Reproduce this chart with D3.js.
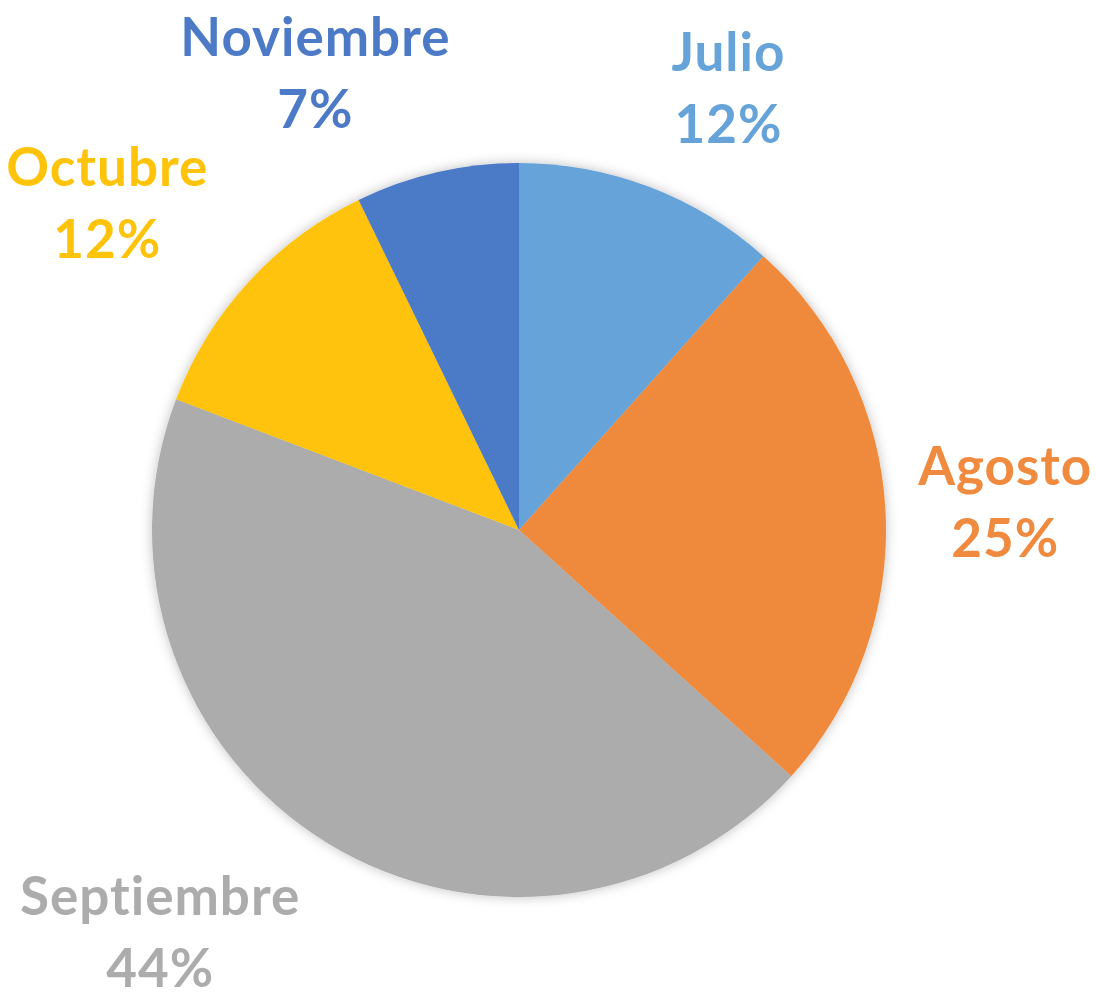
<!DOCTYPE html>
<html lang="en">
<head>
    <meta charset="UTF-8">
    <script src="https://cdn.jsdelivr.net/npm/d3@7"></script>
    <title>Pie - meses</title>
    <style>
        body { margin: 0; background: white; }
        text { font-family: Lato, "Open Sans", sans-serif; font-weight: 700; font-variant-ligatures: none; letter-spacing: 1px; }
    </style>
</head>
<body>
    <div class="fig"></div>
    <script>
        // data
        const months = ["Julio", "Agosto", "Septiembre", "Octubre", "Noviembre"];
        const values = [11.6, 25.1, 44.1, 12.0, 7.2];
        const colors = ["#65a3d8", "#ef8a3e", "#acacac", "#ffc30a", "#4c7ac7"];

        const width = 1096, height = 1003;
        const cx = 519, cy = 530, radius = 367;

        const svg = d3.select(".fig").append("svg")
            .attr("width", width)
            .attr("height", height);

        const defs = svg.append("defs");
        const shadow = defs.append("filter").attr("id", "shadow")
            .attr("x", "-20%").attr("y", "-20%").attr("width", "140%").attr("height", "140%");
        shadow.append("feDropShadow")
            .attr("dx", 0).attr("dy", 0)
            .attr("stdDeviation", 6)
            .attr("flood-color", "#000")
            .attr("flood-opacity", 0.25);

        const pie = d3.pie().sort(null).value(d => d);
        const arcs = pie(values);
        const total = d3.sum(values);

        const arc = d3.arc().innerRadius(0).outerRadius(radius);

        const g = svg.append("g").attr("transform", `translate(${cx},${cy})`);

        g.append("g").attr("filter", "url(#shadow)")
            .selectAll("path")
            .data(arcs)
            .enter()
            .append("path")
            .attr("d", arc)
            .attr("fill", (d, i) => colors[i]);

        // labels outside the pie, box pushed out along the mid angle
        const fontSize = 53, lineGap = 72, labelR = radius + 40;
        // hand tweaks so the labels sit where excel put them
        const nudge = [[44, 0], [-8, -4], [-73, -4], [-37, -8], [-82, 4]];

        arcs.forEach((d, i) => {
            const mid = (d.startAngle + d.endAngle) / 2;
            const dx = Math.sin(mid), dy = -Math.cos(mid);
            const lab = g.append("text")
                .attr("fill", colors[i])
                .attr("font-size", fontSize)
                .attr("text-anchor", "middle");
            lab.append("tspan").attr("x", 0).attr("y", 0).text(months[i]);
            lab.append("tspan").attr("x", 0).attr("y", lineGap)
                .text(d3.format(".0f")(d.value / total * 100) + "%");
            const b = lab.node().getBBox();
            const hw = b.width / 2, hh = b.height / 2;
            const px = dx * labelR + dx * hw + nudge[i][0];
            const py = dy * labelR + dy * hh + nudge[i][1];
            // center the box on (px, py)
            lab.attr("transform", `translate(${px - (b.x + hw)},${py - (b.y + hh)})`);
        });
    </script>
</body>
</html>
